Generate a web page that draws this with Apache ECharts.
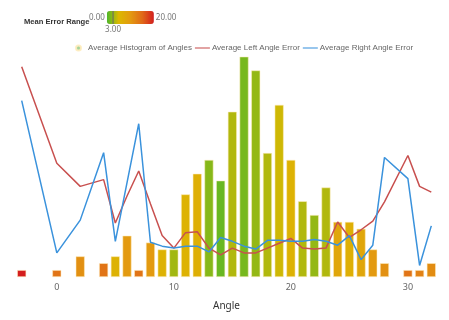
<!DOCTYPE html>
<html>
<head>
<meta charset="utf-8">
<script src="https://cdn.jsdelivr.net/npm/echarts@6/dist/echarts.min.js"></script>
<style>
  html, body { margin: 0; padding: 0; background: #fff; }
  #chart { width: 449px; height: 320px; }
</style>
</head>
<body>
<div id="chart"></div>
<script>
// angles that have data (no -2, -1, 1, 3, 29)
var angles = [-3, 0, 2, 4, 5, 6, 7, 8, 9, 10, 11, 12, 13, 14, 15, 16, 17, 18, 19, 20, 21, 22, 23, 24, 25, 26, 27, 28, 30, 31, 32]
var histCounts = [1, 1, 3, 2, 3, 6, 1, 5, 4, 4, 12, 15, 17, 14, 24, 32, 30, 18, 25, 17, 11, 9, 13, 8, 8, 7, 4, 2, 1, 1, 2]
var meanError = [20, 14, 11, 14, 6, 10, 14, 10, 6, 3, 6, 6.5, 2, 1, 3.5, 1.5, 2.5, 3.5, 4.5, 6, 3.5, 2.5, 3.5, 8, 6.5, 8, 10, 11, 14, 12.5, 11.5]
var leftError = [21.8, 11.8, 9.4, 10.1, 5.6, 8.4, 11.0, 7.6, 4.3, 3.0, 4.6, 4.7, 3.0, 2.3, 3.0, 2.5, 2.5, 3.0, 3.5, 4.0, 3.0, 2.9, 3.0, 5.7, 4.1, 4.9, 5.8, 7.8, 12.6, 9.4, 8.8]
var rightError = [18.3, 2.5, 5.9, 12.9, 3.7, 9.8, 15.9, 3.6, 3.2, 3.0, 3.2, 3.2, 2.6, 4.1, 3.7, 3.2, 2.9, 3.8, 3.8, 3.7, 3.7, 3.9, 3.7, 3.3, 4.3, 1.8, 3.3, 12.4, 10.2, 1.2, 5.3]
var xTicks = [0, 10, 20, 30]
var errorRange = [0, 20]
var markedError = 3

var font = 'Noto Sans'
var smallFont = 'Liberation Sans'
var histData = angles.map(function (a, i) { return [a, histCounts[i], meanError[i]] })
var leftData = angles.map(function (a, i) { return [a, leftError[i]] })
var rightData = angles.map(function (a, i) { return [a, rightError[i]] })

// where the colour bar of the visual map ends up
var barLeft = 106, barTop = 11, barLen = 47, barThick = 13
var markX = barLeft + (markedError - errorRange[0]) / (errorRange[1] - errorRange[0]) * barLen
var lineIcon = 'path://M0,0h20v1.4H0z'

var option = {
  backgroundColor: '#fff',
  animation: false,
  textStyle: { fontFamily: font },
  title: {
    text: 'Mean Error Range',
    left: 19, top: 13,
    textStyle: { fontSize: 7.6, fontWeight: 'bold', color: '#333', fontFamily: smallFont }
  },
  visualMap: {
    type: 'continuous',
    orient: 'horizontal',
    seriesIndex: 0,
    dimension: 2,
    min: errorRange[0],
    max: errorRange[1],
    left: 74, top: -4,
    itemWidth: barThick,
    itemHeight: barLen,
    text: ['20.00', '0.00'],
    textGap: 2,
    calculable: false,
    hoverLink: false,
    textStyle: { fontSize: 8, color: '#777', fontFamily: font },
    inRange: { color: ['#4cb82a', '#dcb800', '#e39a10', '#e06a18', '#d41e1e'] }
  },
  graphic: [
    { type: 'line', z: 100, shape: { x1: markX, y1: barTop, x2: markX, y2: barTop + barThick }, style: { stroke: '#666', lineWidth: 1 } },
    { type: 'text', x: markX, y: barTop + barThick + 2, style: { text: markedError.toFixed(2), fontSize: 8, fill: '#777', align: 'center', fontFamily: font } }
  ],
  legend: {
    top: 39, left: 70, width: 380,
    itemWidth: 15, itemHeight: 5, itemGap: 3,
    symbolKeepAspect: true,
    textStyle: { fontSize: 8, color: '#666', fontFamily: smallFont, padding: [0, 0, 0, -3] },
    data: [
      { name: 'Average Histogram of Angles', icon: 'circle', itemStyle: { color: '#a5d49a' } },
      { name: 'Average Left Angle Error', icon: lineIcon },
      { name: 'Average Right Angle Error', icon: lineIcon }
    ]
  },
  grid: { left: 10, right: 6, top: 36, bottom: 43 },
  xAxis: {
    type: 'value',
    min: -4, max: 33,
    name: 'Angle',
    nameLocation: 'middle',
    nameGap: 24,
    nameTextStyle: { fontSize: 10, color: '#333', fontFamily: font },
    axisLine: { show: false },
    axisTick: { show: false },
    splitLine: { show: false },
    axisLabel: { customValues: xTicks, fontSize: 9, color: '#666', margin: 6, fontFamily: font }
  },
  yAxis: [
    { type: 'value', min: 0, max: 35, show: false, splitLine: { show: false } },
    { type: 'value', min: 0, max: 25, show: false, splitLine: { show: false } }
  ],
  series: [
    {
      name: 'Average Histogram of Angles',
      type: 'bar',
      yAxisIndex: 0,
      barWidth: 9,
      data: histData,
      itemStyle: { borderColor: 'rgba(255,236,190,0.9)', borderWidth: 0.6 }
    },
    {
      name: 'Average Left Angle Error',
      type: 'line',
      yAxisIndex: 1,
      data: leftData,
      showSymbol: false,
      symbol: 'none',
      color: '#c8504f',
      lineStyle: { width: 1.5, color: '#c8504f' }
    },
    {
      name: 'Average Right Angle Error',
      type: 'line',
      yAxisIndex: 1,
      data: rightData,
      showSymbol: false,
      symbol: 'none',
      color: '#3a92dc',
      lineStyle: { width: 1.5, color: '#3a92dc' }
    }
  ]
}

var myChart = echarts.init(document.getElementById('chart'))
myChart.setOption(option)
window.addEventListener('resize', function () { myChart.resize() })
</script>
</body>
</html>
